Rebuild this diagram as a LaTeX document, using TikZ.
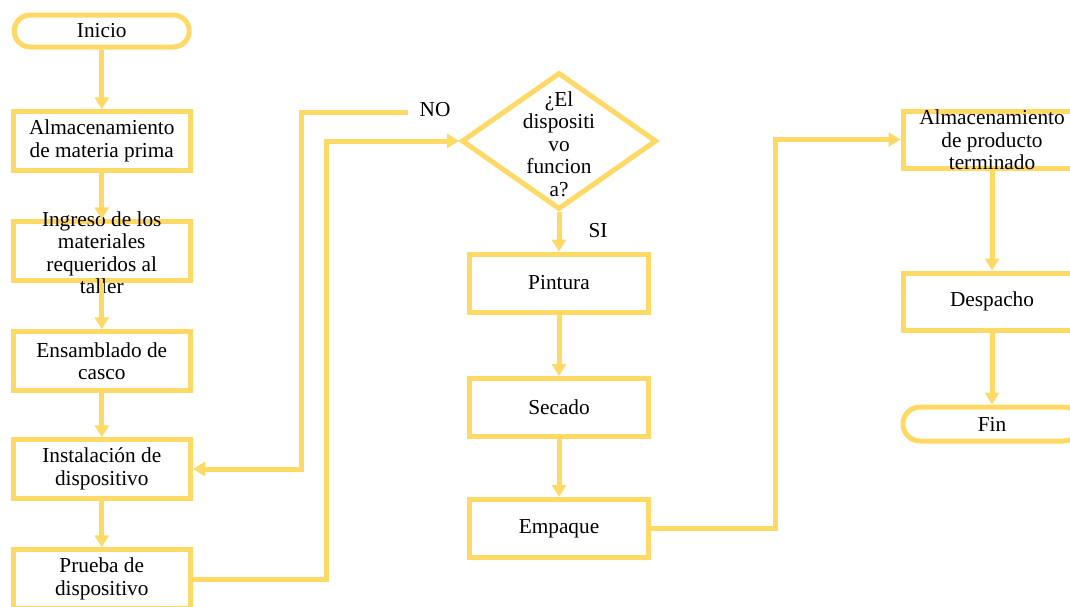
\documentclass[tikz,border=0pt]{standalone}
\usepackage{fontspec}
\setmainfont{Liberation Serif}
\usetikzlibrary{arrows.meta,shapes.geometric}
\definecolor{gold}{HTML}{FFD966}
\begin{document}
\begin{tikzpicture}[x=1pt,y=-1pt,
  box/.style={draw=gold, line width=5pt, minimum width=177.5pt, minimum height=58.5pt, inner sep=0pt},
  stadium/.style={draw=gold, line width=5pt, minimum width=175pt, minimum height=32pt, inner sep=0pt, rounded corners=16pt},
  decision/.style={draw=gold, line width=5pt, diamond, minimum width=195pt, minimum height=137pt, inner sep=0pt},
  txt/.style={font=\fontsize{21.3}{22.5}\selectfont, align=center, inner sep=0pt, text=black},
  conn/.style={draw=gold, line width=5pt, -{Triangle[width=14pt,length=12pt]}}
]
\useasboundingbox (0,0) rectangle (1070,606);
\fill[white] (0,0) rectangle (1070,606);

% left column
\node[stadium] (ini) at (101.75,31) {};
\node[box] (b1) at (101.75,141) {};
\node[box] (b2) at (101.75,251) {};
\node[box] (b3) at (101.75,361) {};
\node[box] (b4) at (101.75,469) {};
\node[box] (b5) at (101.75,579) {};

% middle column
\node[decision] (dia) at (559,141) {};
\node[box, minimum width=179pt, minimum height=58pt] (p1) at (559,283) {};
\node[box, minimum width=179pt, minimum height=58pt] (p2) at (559,407.5) {};
\node[box, minimum width=179pt, minimum height=58pt] (p3) at (559,528.5) {};

% right column
\node[box, minimum width=178pt, minimum height=57pt] (r1) at (992,139.5) {};
\node[box, minimum width=178pt, minimum height=57pt] (r2) at (992,301.5) {};
\node[stadium, minimum width=178pt, minimum height=34pt, rounded corners=17pt] (fin) at (992,424) {};

% texts
\node[txt] (tini) at (ini) {Inicio};
\node[txt] (t1) at (b1) {Almacenamiento\\de materia prima};
\node[txt] (t2) at (101.75,252.5) {Ingreso de los\\materiales\\requeridos al\\taller};
\node[txt] (t3) at (b3) {Ensamblado de\\casco};
\node[txt] (t4) at (b4) {Instalación de\\dispositivo};
\node[txt] (t5) at (b5) {Prueba de\\dispositivo};
\node[txt] (td) at (559,144) {¿El\\dispositi\\vo\\funcion\\a?};
\node[txt] (tp1) at (p1) {Pintura};
\node[txt] (tp2) at (p2) {Secado};
\node[txt] (tp3) at (p3) {Empaque};
\node[txt] (tr1) at (992,140) {Almacenamiento\\de producto\\terminado};
\node[txt] (tr2) at (r2) {Despacho};
\node[txt] (tfin) at (fin) {Fin};
\node[txt] (no) at (435,110) {NO};
\node[txt] (si) at (598,231) {SI};

% connectors
\draw[conn] (ini) -- (b1);
\draw[conn] (b1) -- (b2);
\draw[conn] (b2) -- (b3);
\draw[conn] (b3) -- (b4);
\draw[conn] (b4) -- (b5);
\coordinate (noend) at (408,112);
\draw[conn] (noend) -- (301,112) |- (b4.east);
\draw[conn] (b5.east) -- (326,579) -- (326,141) -- (dia.west);
\draw[conn] (dia) -- (p1);
\draw[conn] (p1) -- (p2);
\draw[conn] (p2) -- (p3);
\draw[conn] (p3.east) -- (775,528.5) |- (r1.west);
\draw[conn] (r1) -- (r2);
\draw[conn] (r2) -- (fin);
\end{tikzpicture}
\end{document}
